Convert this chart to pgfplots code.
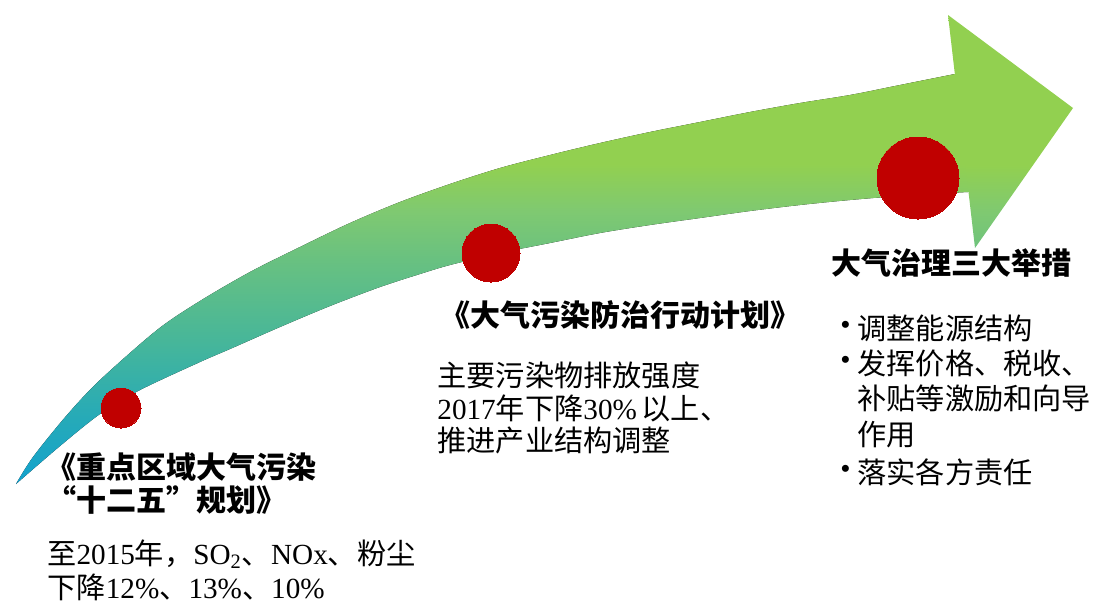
\documentclass[border=0pt]{standalone}
\usepackage{pgfplots}
\pgfplotsset{compat=1.18}
\usepgfplotslibrary{fillbetween}
\usepackage{fontspec}
\setmainfont{Liberation Serif}
\newfontfamily\cjk{Noto Sans CJK SC}
\definecolor{redc}{HTML}{C00000}
\definecolor{s1}{HTML}{12A2CE}
\definecolor{s2}{HTML}{26AAB8}
\definecolor{s3}{HTML}{46B69A}
\definecolor{s4}{HTML}{69C180}
\definecolor{s5}{HTML}{7FC971}
\definecolor{s6}{HTML}{92D050}
\colorlet{h0}{s4!77!s5}
\pgfdeclareverticalshading{bodyshade}{100bp}{color(0bp)=(s1); color(25bp)=(s1); color(33bp)=(s2); color(42.2bp)=(s3); color(52.4bp)=(s4); color(58.2bp)=(s5); color(63.9bp)=(s6); color(100bp)=(s6)}
\pgfdeclareverticalshading{headshade}{100bp}{color(0bp)=(h0); color(25bp)=(h0); color(32.7bp)=(s5); color(42.8bp)=(s6); color(100bp)=(s6)}
\begin{document}
\begin{tikzpicture}[every node/.style={font=\fontsize{14.6}{17}\selectfont, inner sep=0pt, anchor=west}]
\begin{axis}[scale only axis, width=547pt, height=301pt,
  xmin=0, xmax=1094, ymin=0, ymax=602, y dir=reverse,
  hide axis, clip=false]
% arrow body: upper and lower edges
\addplot[name path=U, draw=none, smooth] coordinates {
(16,484) (33,457) (67,415) (100,380) (157,330) (200,301) (250,272) (300,247)
(350,223) (400,202) (450,184) (500,168) (550,155) (600,143) (650,132) (700,122)
(750,112) (800,103) (850,95) (900,85) (955,74) (962,73)
};
\addplot[name path=L, draw=none, smooth] coordinates {
(16,484) (60,446) (100,414) (140,390) (200,362) (230,349) (280,327) (330,306)
(380,287) (420,274) (450,265) (500,253) (550,243) (600,233) (650,225) (700,218)
(750,211) (800,205) (850,200) (900,196) (968,192) (975,192)
};
\addplot[draw=none, shading=bodyshade] fill between[of=U and L];
% arrow head
\addplot[draw=none, shading=headshade] coordinates {(948,15) (1073,108) (975,248) (948,15)};
% milestones
\addplot[only marks, color=redc, mark=*, mark size=10pt, mark options={draw=redc, fill=redc, line width=0pt}] coordinates {(121,408)};
\addplot[only marks, color=redc, mark=*, mark size=14.5pt, mark options={draw=redc, fill=redc, line width=0pt}] coordinates {(491,253)};
\addplot[only marks, color=redc, mark=*, mark size=20.5pt, mark options={draw=redc, fill=redc, line width=0pt}] coordinates {(918,178)};
% left block
\node[font=\fontsize{15}{17}\selectfont] at (axis cs:46,467) {\cjk\bfseries 《重点区域大气污染};
\node[font=\fontsize{15}{17}\selectfont] at (axis cs:46,500) {\cjk\bfseries “十二五”规划》};
\node at (axis cs:47,554) {{\cjk 至}2015{\cjk 年，}SO\textsubscript{2}{\cjk 、}NOx{\cjk 、粉尘}};
\node at (axis cs:47,587) {{\cjk 下降}12\%{\cjk 、}13\%{\cjk 、}10\%};
% middle block
\node[font=\fontsize{15}{17}\selectfont] at (axis cs:440,315) {\cjk\bfseries 《大气污染防治行动计划》};
\node at (axis cs:437,375) {\cjk 主要污染物排放强度};
\node at (axis cs:437,408) {2017{\cjk 年下降}30\%\,{\cjk 以上、}};
\node at (axis cs:437,440) {\cjk 推进产业结构调整};
% right block
\node[font=\fontsize{15}{17}\selectfont] at (axis cs:831,263) {\cjk\bfseries 大气治理三大举措};
\node at (axis cs:840,328) {•};
\node at (axis cs:857,328) {\cjk 调整能源结构};
\node at (axis cs:840,363) {•};
\node at (axis cs:857,363) {\cjk 发挥价格、税收、};
\node at (axis cs:857,398) {\cjk 补贴等激励和向导};
\node at (axis cs:857,435) {\cjk 作用};
\node at (axis cs:840,472) {•};
\node at (axis cs:857,472) {\cjk 落实各方责任};
\end{axis}
\pgfresetboundingbox
\path (current axis.south west) rectangle (current axis.north east);
\end{tikzpicture}
\end{document}
